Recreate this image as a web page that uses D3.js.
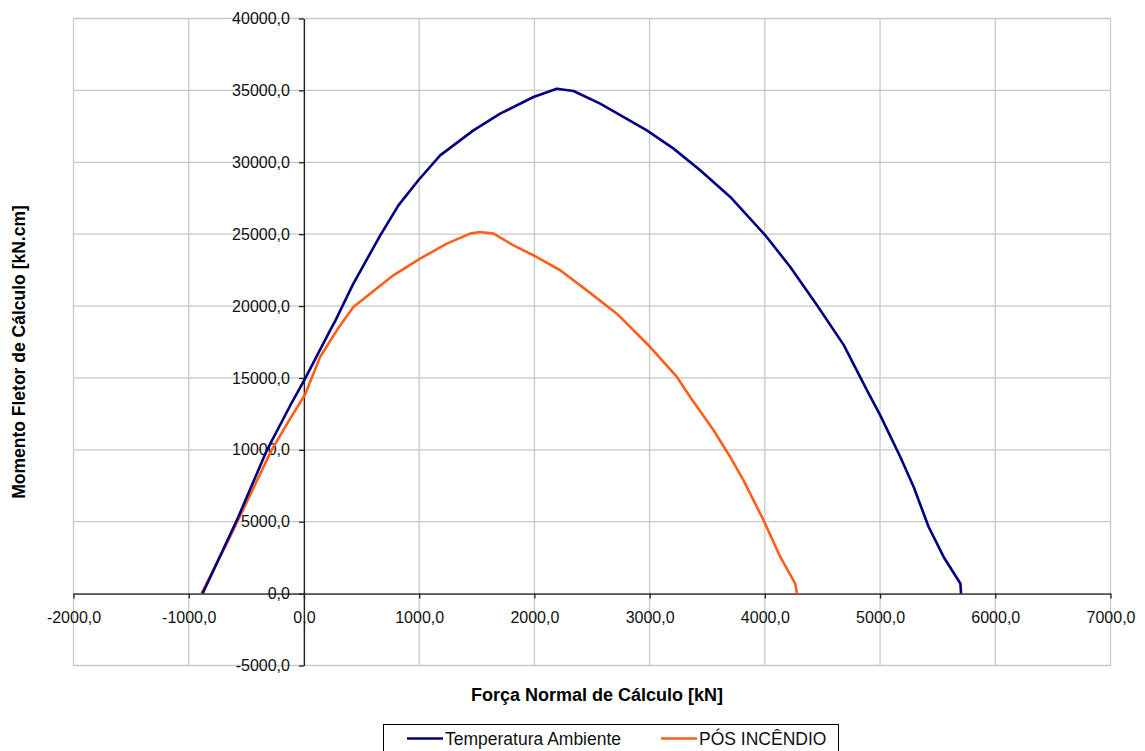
<!DOCTYPE html>
<html lang="pt">
<head>
    <meta charset="UTF-8">
    <title>Diagrama de interação</title>
    <script src="https://cdn.jsdelivr.net/npm/d3@7"></script>
    <style>
        body { margin: 0; background: #fff; }
        svg { display: block; font-family: "Liberation Sans", Arial, sans-serif; }
    </style>
</head>
<body>
<div id="chart"></div>
<script>
// Força normal [kN] e momento [kN.cm]
const ambienteN = [-880, -801, -570, -320, -121, 10, 227, 273, 400, 429, 661, 820, 993, 1182, 1471, 1703, 1992, 2195, 2339, 2571, 2976, 3208, 3439, 3700, 4004, 4221, 4453, 4684, 4887, 5002, 5176, 5292, 5422, 5552, 5697, 5703];
const ambienteM = [0, 1350, 5330, 10000, 13050, 14950, 18310, 18990, 21090, 21560, 24900, 27000, 28750, 30480, 32220, 33380, 34540, 35120, 34960, 34080, 32220, 30950, 29440, 27590, 24920, 22720, 20050, 17300, 14140, 12400, 9500, 7410, 4630, 2550, 700, 0];

const incendioN = [-890, -670, -578, -280, -121, 10, 140, 285, 429, 574, 776, 1008, 1240, 1442, 1529, 1645, 1818, 2021, 2224, 2455, 2716, 3005, 3237, 3352, 3555, 3700, 3815, 3989, 4134, 4264, 4279];
const incendioM = [0, 3480, 5000, 10000, 12150, 13850, 16460, 18310, 19930, 20860, 22140, 23300, 24340, 25040, 25150, 25040, 24220, 23410, 22490, 21090, 19470, 17150, 15070, 13670, 11360, 9500, 7880, 5100, 2550, 700, 0];

const xTicks = [-2000, -1000, 0, 1000, 2000, 3000, 4000, 5000, 6000, 7000];
const yTicks = [-5000, 0, 5000, 10000, 15000, 20000, 25000, 30000, 35000, 40000];

const seriesNames = ["Temperatura Ambiente", "PÓS INCÊNDIO"];
const seriesColors = ["#000080", "#ff5f1a"];

const width = 1145, height = 751;
const svg = d3.select("#chart").append("svg")
    .attr("width", width)
    .attr("height", height);

const x = d3.scaleLinear().domain([-2000, 7000]).range([73.5, 1110.5]);
const y = d3.scaleLinear().domain([-5000, 40000]).range([665.5, 18.5]);

// formato brasileiro, com hífen simples como sinal
const fmt = v => v.toFixed(1).replace(".", ",");

// grid
const grid = svg.append("g").attr("stroke", "#c8c8c8").attr("stroke-width", 1.3);
grid.selectAll(".gx").data(xTicks).enter().append("line")
    .attr("x1", d => x(d)).attr("x2", d => x(d))
    .attr("y1", y(40000)).attr("y2", y(-5000));
grid.selectAll(".gy").data(yTicks).enter().append("line")
    .attr("x1", x(-2000)).attr("x2", x(7000))
    .attr("y1", d => y(d)).attr("y2", d => y(d));

// axes
const xAxis = svg.append("g")
    .attr("transform", `translate(0, ${y(0)})`)
    .call(d3.axisBottom(x).tickValues(xTicks).tickFormat(fmt).tickSizeInner(5).tickSizeOuter(0).tickPadding(13));
const yAxis = svg.append("g")
    .attr("transform", `translate(${x(0)}, 0)`)
    .call(d3.axisLeft(y).tickValues(yTicks).tickFormat(fmt).tickSizeInner(5).tickSizeOuter(0).tickPadding(9));

[xAxis, yAxis].forEach(a => {
    a.select(".domain").attr("stroke", "#222").attr("stroke-width", 1.3);
    a.selectAll(".tick line").attr("stroke", "#222").attr("stroke-width", 1.3);
    a.selectAll(".tick text")
        .attr("fill", "#111")
        .style("font-family", "'Liberation Sans', Arial, sans-serif")
        .style("font-size", "16px");
});

// curves
const line = d3.line().x(d => x(d[0])).y(d => y(d[1]));
const ambiente = ambienteN.map((n, i) => [n, ambienteM[i]]);
const incendio = incendioN.map((n, i) => [n, incendioM[i]]);

svg.append("path").datum(incendio)
    .attr("d", line).attr("fill", "none")
    .attr("stroke", seriesColors[1]).attr("stroke-width", 2.6)
    .attr("stroke-linejoin", "round");
svg.append("path").datum(ambiente)
    .attr("d", line).attr("fill", "none")
    .attr("stroke", seriesColors[0]).attr("stroke-width", 2.6)
    .attr("stroke-linejoin", "round");

// titles
svg.append("text")
    .attr("x", 597).attr("y", 701)
    .attr("text-anchor", "middle")
    .style("font-size", "18px").style("font-weight", "bold")
    .text("Força Normal de Cálculo [kN]");

svg.append("text")
    .attr("transform", "translate(25, 352) rotate(-90)")
    .attr("text-anchor", "middle")
    .style("font-size", "17.5px").style("font-weight", "bold")
    .text("Momento Fletor de Cálculo [kN.cm]");

// legend
const legend = svg.append("g");
legend.append("rect")
    .attr("x", 383.5).attr("y", 724.5)
    .attr("width", 455).attr("height", 40)
    .attr("fill", "#fff").attr("stroke", "#000").attr("stroke-width", 1);

const legendX = [407, 661];
seriesNames.forEach((name, i) => {
    legend.append("line")
        .attr("x1", legendX[i]).attr("x2", legendX[i] + 36)
        .attr("y1", 738.5).attr("y2", 738.5)
        .attr("stroke", seriesColors[i]).attr("stroke-width", 2.6);
    legend.append("text")
        .attr("x", legendX[i] + 38).attr("y", 744.5)
        .style("font-size", "17.5px")
        .attr("fill", "#111")
        .text(name);
});
</script>
</body>
</html>
